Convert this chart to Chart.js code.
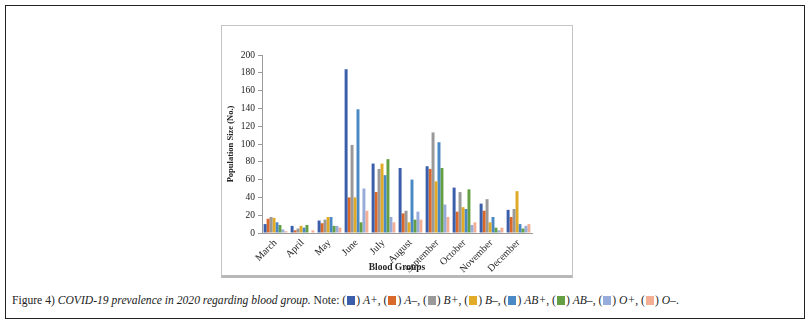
<!DOCTYPE html>
<html>
<head>
<meta charset="utf-8">
<script src="https://cdn.jsdelivr.net/npm/chart.js@4.4.1/dist/chart.umd.min.js"></script>
<style>
  html, body { margin: 0; padding: 0; background: #fff; }
  body { width: 812px; height: 329px; position: relative; overflow: hidden; font-family: "Liberation Serif", serif; }
  #frame { position: absolute; left: 5px; top: 5px; width: 798px; height: 312px; border: 1.5px solid #222; }
  #box { position: absolute; left: 221px; top: 25px; width: 350px; height: 249px; border: 1px solid #c4c4c4; border-bottom: 3px solid #b8b8b8; }
  #wrap { position: absolute; left: 222px; top: 27px; width: 350px; height: 248px; }
  #cap { position: absolute; left: 12px; top: 294px; font-size: 11.6px; color: #222; white-space: nowrap; }
  #cap i { font-style: italic; }
  .sw { display: inline-block; width: 8px; height: 9px; vertical-align: -1px; margin: 0 1px; }
</style>
</head>
<body>
<div id="frame"></div>
<div id="box"></div>
<div id="wrap"><canvas id="c" width="350" height="246"></canvas></div>
<div id="cap"></div>
<script>
// 月（横軸）
const months = ["March", "April", "May", "June", "July", "August", "September", "October", "November", "December"];

// 血液型ごとの人数
const groups = ["A+", "A–", "B+", "B–", "AB+", "AB–", "O+", "O–"];
const aPos  = [10, 8, 14, 184, 78, 73, 75, 51, 33, 26];
const aNeg  = [16, 3, 11, 40, 46, 22, 72, 24, 25, 18];
const bPos  = [18, 5, 15, 99, 72, 25, 113, 46, 38, 27];
const bNeg  = [17, 8, 18, 40, 78, 12, 58, 29, 12, 47];
const abPos = [12, 6, 18, 139, 65, 60, 102, 27, 18, 10];
const abNeg = [9, 9, 8, 12, 83, 15, 73, 49, 6, 5];
const oPos  = [4, 0, 8, 50, 18, 24, 32, 9, 3, 8];
const oNeg  = [2, 3, 6, 25, 12, 15, 18, 12, 6, 10];

const colors = ["#3a5eaa", "#d9692b", "#999999", "#e1ab27", "#4a89c5", "#64a043", "#98acdc", "#f3ae94"];

const series = [aPos, aNeg, bPos, bNeg, abPos, abNeg, oPos, oNeg];

// キャプション
const cap = document.getElementById("cap");
let html = 'Figure 4) <i>COVID-19 prevalence in 2020 regarding blood group.</i> Note: ';
html += groups.map((g, i) => `(<span class="sw" style="background:${colors[i]}"></span>) <i>${g}</i>`).join(", ") + ".";
cap.innerHTML = html;

const axisGrey = "#9a9a9a";

new Chart(document.getElementById("c"), {
  type: "bar",
  data: {
    labels: months,
    datasets: series.map((d, i) => ({
      label: groups[i],
      data: d,
      backgroundColor: colors[i],
      borderWidth: 0,
      categoryPercentage: 0.88,
      barPercentage: 1.0,
    }))
  },
  options: {
    responsive: false,
    animation: false,
    layout: { padding: { top: 28, right: 40, left: 0, bottom: 0 } },
    plugins: {
      legend: { display: false },
      tooltip: { enabled: false }
    },
    scales: {
      x: {
        grid: { display: false, drawTicks: false },
        border: { display: true, color: axisGrey, width: 1 },
        ticks: {
          autoSkip: false, maxRotation: 45, minRotation: 45, padding: 4,
          color: "#222", font: { family: "Liberation Serif", size: 10 }
        },
        title: {
          display: true, text: "Blood Groups", color: "#222",
          font: { family: "Liberation Serif", size: 9.5, weight: "bold" }, padding: 0
        },
        afterFit: s => { s.height = 40; }
      },
      y: {
        min: 0, max: 200,
        grid: { drawOnChartArea: false, drawTicks: true, tickLength: 4, color: axisGrey },
        border: { display: true, color: axisGrey, width: 1 },
        ticks: {
          stepSize: 20, padding: 3, color: "#222",
          font: { family: "Liberation Serif", size: 9.5 }
        },
        title: {
          display: true, text: "Population Size (No.)", color: "#222",
          font: { family: "Liberation Serif", size: 8.5, weight: "bold" }, padding: { top: 4, bottom: 0 }
        },
        afterFit: s => { s.width = 40; }
      }
    }
  }
});
</script>
</body>
</html>
